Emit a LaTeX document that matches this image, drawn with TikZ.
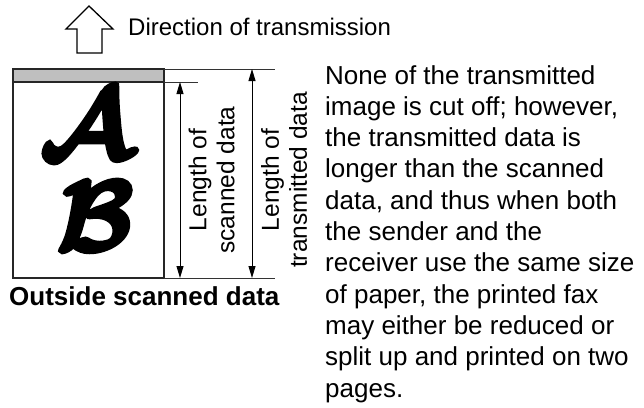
\documentclass[tikz,border=0pt]{standalone}
\usepackage{fontspec}
\setmainfont{Liberation Sans}
\usepackage{amsmath,bm}
\usetikzlibrary{arrows.meta}

\newcommand{\brushtext}[1]{\special{pdf:literal direct 2 Tr 1.2 w}#1\special{pdf:literal direct 0 Tr 1 w}}

\tikzset{
  dimarrow/.style={line width=0.9pt, {Triangle[length=12pt,width=7pt]}-{Triangle[length=12pt,width=7pt]}},
  extline/.style={line width=0.9pt, draw=black!80},
  sidelabel/.style={rotate=90, align=center, inner sep=0pt, font=\fontsize{24.5}{28}\selectfont},
  brushletter/.style={inner sep=0pt, scale=4, font=\fontsize{24.88}{25}\selectfont},
}

\begin{document}
\begin{tikzpicture}[x=1pt,y=-1pt]

\def\boxL{13}
\def\boxR{164}
\def\boxT{69}
\def\bandB{82}
\def\boxB{278}
\def\scanX{180}
\def\transX{252}
\def\extR{275}
\def\bandR{198}

\useasboundingbox (0,0) rectangle (644,407);

\draw[line width=1.3pt, line join=miter] (89,6) -- (113,29) -- (102,29) -- (102,53) -- (77,53) -- (77,29) -- (66,29) -- cycle;
\node[anchor=base west, inner sep=0pt, font=\fontsize{24}{29}\selectfont] (dirLabel) at (128,35) {Direction of transmission};

\draw[line width=1.8pt, draw=black!85, fill=white] (\boxL,\boxT) rectangle (\boxR,\boxB);
\draw[line width=1.8pt, draw=black!85, fill=black!25] (\boxL,\boxT) rectangle (\boxR,\bandB);

\node[brushletter] (letterA) at (86,124) {\brushtext{$\bm{\mathcal{A}}$}};
\node[brushletter] (letterB) at (95,216) {\brushtext{$\bm{\mathcal{B}}$}};

\coordinate (transTopEnd) at (\extR,\boxT);
\coordinate (scanTopEnd) at (\bandR,\bandB);
\coordinate (bottomEnd) at (\extR,\boxB);
\coordinate (transTop) at (\transX,\boxT);
\coordinate (transBot) at (\transX,\boxB);
\coordinate (scanTop) at (\scanX,\bandB);
\coordinate (scanBot) at (\scanX,\boxB);

\draw[extline] (\boxR,\boxT) -- (transTopEnd);
\draw[extline] (\boxR,\bandB) -- (scanTopEnd);
\draw[extline] (\boxR,\boxB) -- (bottomEnd);

\draw[dimarrow] (scanTop) -- (scanBot);
\draw[dimarrow] (transTop) -- (transBot);

\node[sidelabel] (scanLabel) at (211.5,180) {Length of\\scanned data};
\node[sidelabel] (transLabel) at (284,180) {Length of\\transmitted data};

\node[anchor=base west, inner sep=0pt, font=\bfseries\fontsize{26}{31}\selectfont] (caption) at (9,305) {Outside scanned data};

\node[anchor=base west, inner sep=0pt, align=left, font=\fontsize{26}{31.3}\selectfont] (note) at (325,397) {None of the transmitted\\image is cut off; however,\\the transmitted data is\\longer than the scanned\\data, and thus when both\\the sender and the\\receiver use the same size\\of paper, the printed fax\\may either be reduced or\\split up and printed on two\\pages.};

\end{tikzpicture}
\end{document}
